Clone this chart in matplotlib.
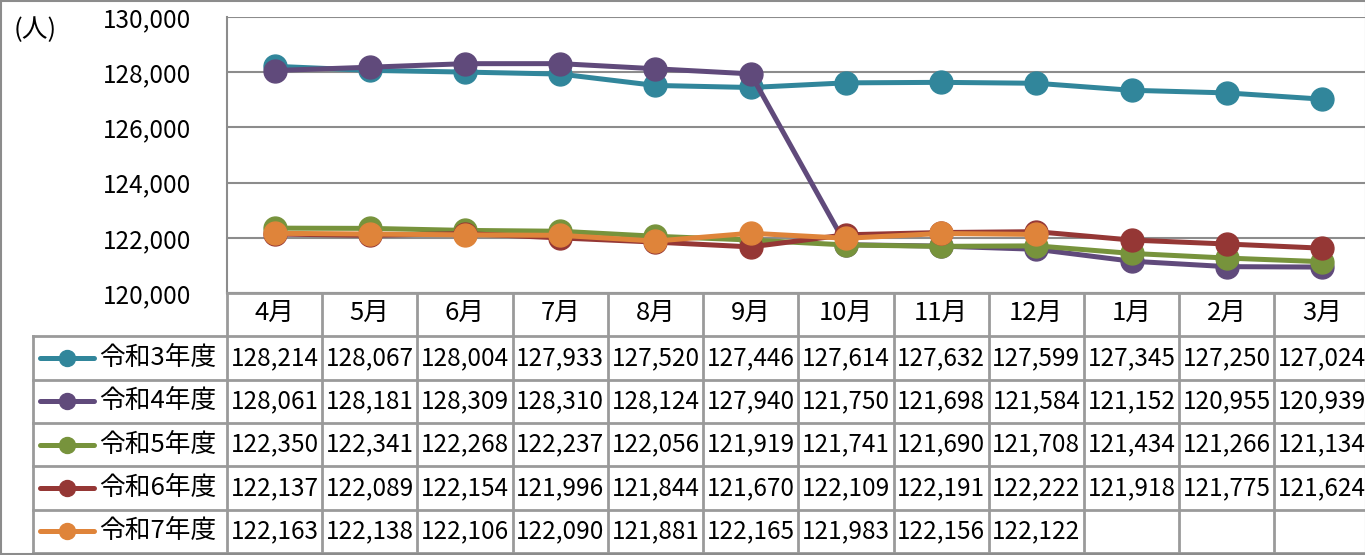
import matplotlib
matplotlib.use("Agg")
import matplotlib.pyplot as plt
from matplotlib.patches import Rectangle

plt.rcParams['font.family'] = ['Noto Sans CJK JP', 'DejaVu Sans']

months = ["4月", "5月", "6月", "7月", "8月", "9月", "10月", "11月", "12月", "1月", "2月", "3月"]
series_names = ["令和3年度", "令和4年度", "令和5年度", "令和6年度", "令和7年度"]
r3 = [128214, 128067, 128004, 127933, 127520, 127446, 127614, 127632, 127599, 127345, 127250, 127024]
r4 = [128061, 128181, 128309, 128310, 128124, 127940, 121750, 121698, 121584, 121152, 120955, 120939]
r5 = [122350, 122341, 122268, 122237, 122056, 121919, 121741, 121690, 121708, 121434, 121266, 121134]
r6 = [122137, 122089, 122154, 121996, 121844, 121670, 122109, 122191, 122222, 121918, 121775, 121624]
r7 = [122163, 122138, 122106, 122090, 121881, 122165, 121983, 122156, 122122]
series = [r3, r4, r5, r6, r7]
colors = ["#31869B", "#604A7B", "#77933C", "#953735", "#DF843A"]
yticks = [120000, 122000, 124000, 126000, 128000, 130000]

W, H = 1365, 555
fig = plt.figure(figsize=(W / 100, H / 100), dpi=100)

def fx(px):
    return px / W

def fy(py):
    return 1 - py / H

grid_c = "#8C8C8C"
fs_num = 17.5
fs_cjk = 18.5

# main plot axes
x_left, x_right = 227, 1369.6
ax = fig.add_axes([fx(x_left), fy(293), fx(x_right) - fx(x_left), fy(17) - fy(293)])
ax.set_xlim(-0.5, 11.5)
ax.set_ylim(120000, 130000)
ax.set_yticks(yticks)
ax.set_yticklabels([f"{v:,}" for v in yticks], fontsize=fs_num)
ax.tick_params(axis='y', length=0, pad=26)
ax.set_xticks([])
for s in ["top", "right"]:
    ax.spines[s].set_visible(False)
for s in ["left", "bottom"]:
    ax.spines[s].set_color(grid_c)
    ax.spines[s].set_linewidth(1.5)
ax.grid(axis='y', color=grid_c, linewidth=1.5)
ax.set_axisbelow(True)
for vals, c in zip(series, colors):
    ax.plot(range(len(vals)), vals, color=c, lw=3.6, marker='o', ms=16.5,
            solid_capstyle='round', clip_on=False)

# table axes
col_w = (x_right - x_left) / 12
leg_left = 33
t_left = -0.5 - (x_left - leg_left) / col_w
tab = fig.add_axes([fx(leg_left), fy(553), fx(x_right) - fx(leg_left), fy(293) - fy(553)])
tab.set_xlim(t_left, 11.5)
tab.set_ylim(6, 0)
tab.axis('off')
tc = "#9A9A9A"
tlw = 2.0
tab.plot([-0.5, 11.5], [0, 0], color=tc, lw=tlw, clip_on=False)
for r in range(1, 7):
    tab.plot([t_left, 11.5], [r, r], color=tc, lw=tlw, clip_on=False)
for c in range(13):
    tab.plot([c - 0.5, c - 0.5], [0, 6], color=tc, lw=tlw, clip_on=False)
tab.plot([t_left, t_left], [1, 6], color=tc, lw=tlw, clip_on=False)

for i, m in enumerate(months):
    tab.text(i, 0.47, m, ha='center', va='center', fontsize=fs_cjk)

def px2d(px):
    return (px - leg_left) / col_w + t_left

for r, (name, vals, c) in enumerate(zip(series_names, series, colors)):
    yy = r + 1.5
    tab.plot([px2d(40), px2d(94)], [yy, yy], color=c, lw=3.6, solid_capstyle='round')
    tab.plot([px2d(67)], [yy], marker='o', ms=11.5, color=c)
    tab.text(px2d(99), yy, name, ha='left', va='center', fontsize=fs_cjk)
    for i, v in enumerate(vals):
        tab.text(i, yy, f"{v:,}", ha='center', va='center', fontsize=fs_num)

fig.text(fx(14), fy(30), "(人)", ha='left', va='center', fontsize=fs_cjk)

fig.patches.append(Rectangle((fx(1), fy(554)), fx(1366) - fx(1), fy(1) - fy(554),
                             transform=fig.transFigure, fill=False,
                             edgecolor=grid_c, lw=1.5))

fig.savefig("out.png", dpi=100)
